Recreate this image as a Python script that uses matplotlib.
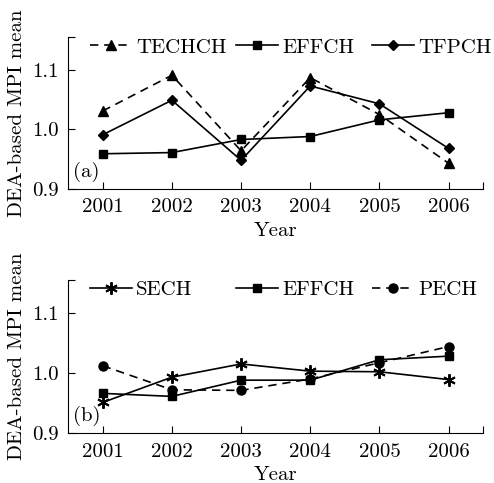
import matplotlib
matplotlib.use("Agg")
import matplotlib.pyplot as plt
from matplotlib.legend import Legend

plt.rcParams['font.family'] = ['cmr10', 'DejaVu Serif']
plt.rcParams['axes.formatter.use_mathtext'] = True
plt.rcParams['mathtext.fontset'] = 'cm'

# Data
years = [2001, 2002, 2003, 2004, 2005, 2006]
year_labels = ['2001', '2002', '2003', '2004', '2005', '2006']

# panel (a)
techch = [1.031, 1.091, 0.964, 1.087, 1.025, 0.943]
effch_a = [0.959, 0.961, 0.983, 0.988, 1.016, 1.028]
tfpch = [0.991, 1.049, 0.948, 1.073, 1.043, 0.968]

# panel (b)
sech = [0.951, 0.993, 1.015, 1.003, 1.002, 0.989]
effch_b = [0.966, 0.961, 0.988, 0.988, 1.022, 1.028]
pech = [1.012, 0.972, 0.971, 0.990, 1.017, 1.044]

y_ticks = [0.9, 1.0, 1.1]
y_tick_labels = ['0.9', '1.0', '1.1']

# legend column starts (axes fraction), same for both panels
legend_x = [0.053, 0.405, 0.733]


def style_axes(ax, tag):
    ax.set_xlim(2000.5, 2006.5)
    ax.set_ylim(0.9, 1.155)
    ax.spines['top'].set_visible(False)
    ax.spines['right'].set_visible(False)
    ax.set_xticks(years)
    ax.set_xticklabels(year_labels)
    ax.set_yticks(y_ticks)
    ax.set_yticklabels(y_tick_labels)
    # end ticks at the axis limits
    ax.set_xticks([2006.5], minor=True)
    ax.set_yticks([1.155], minor=True)
    ax.tick_params(which='both', direction='in', length=5, width=0.8, labelsize=15, pad=7)
    ax.set_xlabel('Year', fontsize=15, labelpad=4)
    ax.set_ylabel('DEA-based MPI mean', fontsize=15, labelpad=4)
    ax.text(0.012, 0.11, tag, transform=ax.transAxes, fontsize=15, va='center', ha='left')
    # one legend per entry so the columns line up between the panels
    for line, x in zip(ax.get_lines(), legend_x):
        leg = Legend(ax, [line], [line.get_label()], loc='upper left', bbox_to_anchor=(x, 0.995),
                     frameon=False, fontsize=15, handlelength=2.0, handletextpad=0.2,
                     borderpad=0.0, borderaxespad=0.0)
        ax.add_artist(leg)


fig = plt.figure(figsize=(4.94, 4.83), dpi=100)
ax1 = fig.add_axes([0.138, 0.609, 0.840, 0.314])
ax2 = fig.add_axes([0.138, 0.1035, 0.840, 0.317])

dash = (0, (5, 3.5))
ax1.plot(years, techch, color='black', lw=1.2, ls=dash, marker='^', ms=7, label='TECHCH')
ax1.plot(years, effch_a, color='black', lw=1.2, marker='s', ms=5.5, label='EFFCH')
ax1.plot(years, tfpch, color='black', lw=1.2, marker='D', ms=5, label='TFPCH')
style_axes(ax1, '(a)')

ax2.plot(years, sech, color='black', lw=1.2, marker=(6, 2, 0), ms=9, mew=1.4, label='SECH')
ax2.plot(years, effch_b, color='black', lw=1.2, marker='s', ms=5.5, label='EFFCH')
ax2.plot(years, pech, color='black', lw=1.2, ls=dash, marker='o', ms=6.5, label='PECH')
style_axes(ax2, '(b)')

fig.savefig('out.png', dpi=100)
